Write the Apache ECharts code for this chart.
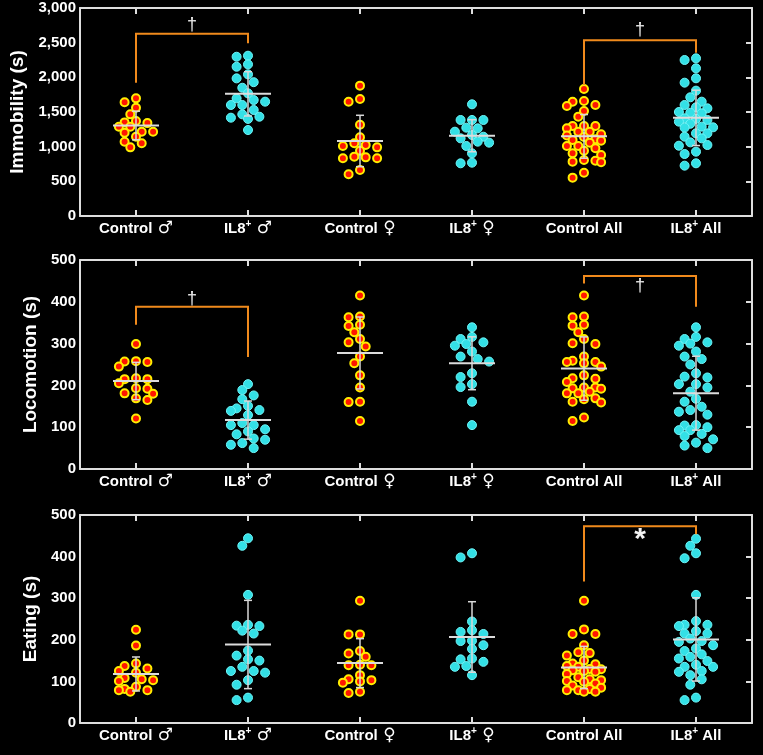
<!DOCTYPE html>
<html><head><meta charset="utf-8">
<script src="https://cdn.jsdelivr.net/npm/echarts@6/dist/echarts.min.js"></script>
<style>html,body{margin:0;padding:0;background:#000}#c{width:763px;height:755px}</style>
</head><body><div id="c"></div>
<script>
// ---- categories & tick settings ----
const categories = ['Control ♂', 'IL8+ ♂', 'Control ♀', 'IL8+ ♀', 'Control All', 'IL8+ All'];
const panelTitles = ['Immobility (s)', 'Locomotion (s)', 'Eating (s)'];
const panelMax = [3000, 500, 500];
const panelInterval = [500, 100, 100];

// ---- Immobility (s) ----
const immCtrlMale   = [1697,1640,1562,1466,1370,1350,1340,1288,1288,1216,1216,1200,1144,1072,1048,990];
const immIl8Male    = [2312,2297,2187,2153,2043,1985,1930,1850,1769,1697,1673,1649,1601,1601,1529,1466,1432,1418,1400,1240];
const immCtrlFemale = [1880,1688,1649,1317,1135,1048,1024,1010,990,942,856,846,832,832,663,601];
const immIl8Female  = [1611,1385,1385,1385,1274,1264,1216,1168,1144,1120,1072,1058,1010,904,769,760];
const immCtrlAll    = [1832,1659,1649,1601,1587,1515,1433,1298,1298,1298,1264,1216,1216,1180,1160,1140,1106,1096,1087,1058,1010,1010,976,942,904,880,808,798,784,774,625,553];
const immIl8All     = [2274,2250,2130,1986,1923,1808,1712,1649,1601,1567,1553,1500,1490,1481,1409,1400,1385,1361,1330,1289,1279,1274,1192,1192,1144,1120,1062,1024,1014,928,894,760,726];

// ---- Locomotion (s) ----
const locCtrlMale   = [299,258,257,256,245,217,215,215,205,193,192,181,180,169,165,121];
const locIl8Male    = [203,189,176,167,151,145,141,139,129,110,105,105,95,90,83,73,70,62,58,50];
const locCtrlFemale = [415,365,363,345,342,327,311,303,293,269,253,224,195,161,160,115];
const locIl8Female  = [339,316,311,303,299,295,281,269,263,257,229,220,203,196,161,105];
const locCtrlAll    = [415,365,363,345,343,327,311,301,299,269,259,256,256,253,245,224,217,216,208,195,195,193,192,185,181,181,169,167,161,159,123,115];
const locIl8All     = [339,316,311,303,300,295,281,269,263,250,229,221,219,203,203,195,185,168,161,149,141,137,130,105,104,100,93,93,84,79,71,63,56,50];

// ---- Eating (s) ----
const eatCtrlMale   = [224,186,143,137,131,125,121,108,105,103,101,87,82,79,79,75];
const eatIl8Male    = [444,426,308,236,234,233,222,215,174,162,153,150,135,125,125,121,103,92,61,55];
const eatCtrlFemale = [294,213,213,173,167,159,140,139,139,115,105,103,100,97,75,72];
const eatIl8Female  = [408,398,244,223,219,214,198,197,187,178,155,153,147,137,135,115];
const eatCtrlAll    = [294,225,214,214,187,170,168,162,150,143,141,137,135,130,129,127,125,123,118,110,105,103,101,99,95,90,85,82,79,79,75,75];
const eatIl8All     = [443,426,408,396,308,245,236,236,233,221,215,215,203,197,195,187,179,173,165,159,155,149,140,135,135,125,123,115,105,92,61,55];

// ---- significance brackets: [fromCat, toCat, topValue, leftEndValue, rightEndValue, markValue] ----
const immBrackets = [[0,1,2630,1923,2490,2761],[4,5,2534,1890,2356,2682]];
const immMarks = ['†','†'];
const locBrackets = [[0,1,388,345,268,407],[4,5,462,444,388,437]];
const locMarks = ['†','†'];
const eatBrackets = [[4,5,473,340,454,440]];
const eatMarks = ['*'];

const panels = [
  {groups:[immCtrlMale,immIl8Male,immCtrlFemale,immIl8Female,immCtrlAll,immIl8All], brackets:immBrackets, marks:immMarks},
  {groups:[locCtrlMale,locIl8Male,locCtrlFemale,locIl8Female,locCtrlAll,locIl8All], brackets:locBrackets, marks:locMarks},
  {groups:[eatCtrlMale,eatIl8Male,eatCtrlFemale,eatIl8Female,eatCtrlAll,eatIl8All], brackets:eatBrackets, marks:eatMarks}
];

const FONT = '"Liberation Sans", Arial, sans-serif';
const AXIS_COLOR = '#dedede';
const gridTops = [8, 260, 515];
const gridH = [208, 209, 208];

// beeswarm-style horizontal spread (pixels), limited to +-3 columns
function swarm(values, pxPerUnit, diam, step, maxCol) {
  const idx = values.map((v, i) => i).sort((a, b) => values[b] - values[a]);
  const placed = [], off = new Array(values.length).fill(0);
  const cands = [0];
  for (let k = 1; k <= maxCol; k++) { cands.push(-k * step, k * step); }
  for (const i of idx) {
    const y = values[i] * pxPerUnit;
    let best = null, bestD = -1;
    for (const dx of cands) {
      const dmin = placed.length ? Math.min(...placed.map(p => Math.hypot(p.x - dx, p.y - y))) : 1e9;
      if (dmin >= diam) { best = dx; break; }
      if (dmin > bestD) { bestD = dmin; best = dx; }
    }
    placed.push({x: best, y}); off[i] = best;
  }
  return off;
}
function mean(a){ return a.reduce((s,v)=>s+v,0)/a.length; }
function sd(a){ const m=mean(a); return Math.sqrt(a.reduce((s,v)=>s+(v-m)**2,0)/(a.length-1)); }

const grid = [], xAxis = [], yAxis = [], series = [];
panels.forEach((p, pi) => {
  grid.push({left: 80, width: 672, top: gridTops[pi], height: gridH[pi]});
  const tickStyle = {show: true, inside: true, alignWithLabel: true, interval: 0, length: 6, lineStyle: {color: AXIS_COLOR, width: 2}};
  xAxis.push({
    type: 'category', gridIndex: pi, data: categories, position: 'bottom',
    axisLine: {show: true, onZero: false, lineStyle: {color: AXIS_COLOR, width: 2}},
    axisTick: tickStyle,
    axisLabel: {
      interval: 0, hideOverlap: false, lineHeight: 20,
      color: '#fff', fontSize: 15, fontWeight: 'bold', fontFamily: FONT, margin: 3,
      formatter: v => v.replace('IL8+', 'IL8{s|+}').replace(' ♂', '{g| ♂}').replace(' ♀', '{g| ♀}'),
      rich: {
        s: {fontSize: 10, fontWeight: 'bold', color: '#fff', fontFamily: FONT, lineHeight: 12, verticalAlign: 'top'},
        g: {fontSize: 17, fontWeight: 'normal', color: '#fff', fontFamily: '"DejaVu Sans", sans-serif', lineHeight: 20}
      }
    },
    splitLine: {show: false}
  });
  xAxis.push({
    type: 'category', gridIndex: pi, data: categories, position: 'top',
    axisLine: {show: true, onZero: false, lineStyle: {color: AXIS_COLOR, width: 2}},
    axisTick: tickStyle, axisLabel: {show: false}, splitLine: {show: false}
  });
  yAxis.push({
    type: 'value', gridIndex: pi, min: 0, max: panelMax[pi], interval: panelInterval[pi], position: 'left',
    name: panelTitles[pi], nameLocation: 'middle', nameGap: 40,
    nameTextStyle: {color: '#fff', fontSize: 19, fontWeight: 'bold', fontFamily: FONT},
    axisLine: {show: true, lineStyle: {color: AXIS_COLOR, width: 2}},
    axisTick: {show: false},
    axisLabel: {color: '#fff', fontSize: 15, fontWeight: 'bold', fontFamily: FONT, margin: 4,
      formatter: v => v.toLocaleString('en-US')},
    splitLine: {show: false}
  });
  yAxis.push({
    type: 'value', gridIndex: pi, min: 0, max: panelMax[pi], interval: panelInterval[pi], position: 'right',
    axisLine: {show: true, lineStyle: {color: AXIS_COLOR, width: 2}},
    axisTick: {show: true, inside: true, length: 6, lineStyle: {color: AXIS_COLOR, width: 2}},
    axisLabel: {show: false}, splitLine: {show: false}
  });
  const pxPerUnit = gridH[pi] / panelMax[pi];
  const ctrlData = [], il8Data = [];
  p.groups.forEach((vals, gi) => {
    const offs = swarm(vals, pxPerUnit, 8, 5.7, 3);
    vals.forEach((v, k) => {
      const item = {value: [gi, v], symbolOffset: [offs[k], 0]};
      (gi % 2 === 0 ? ctrlData : il8Data).push(item);
    });
  });
  series.push({
    type: 'scatter', xAxisIndex: pi * 2, yAxisIndex: pi * 2, data: ctrlData,
    symbol: 'circle', symbolSize: 8, silent: true,
    itemStyle: {color: '#ff1500', borderColor: '#ffee00', borderWidth: 2, opacity: 1}, z: 2
  });
  series.push({
    type: 'scatter', xAxisIndex: pi * 2, yAxisIndex: pi * 2, data: il8Data,
    symbol: 'circle', symbolSize: 9, silent: true,
    itemStyle: {color: '#33e0e6', borderColor: '#6ff4f7', borderWidth: 1, opacity: 1}, z: 2
  });
  const stats = p.groups.map((vals, gi) => [gi, mean(vals), sd(vals)]);
  series.push({
    type: 'custom', xAxisIndex: pi * 2, yAxisIndex: pi * 2, data: stats, z: 5, silent: true,
    encode: {x: 0, y: 1},
    renderItem: (params, api) => {
      const c = api.value(0), m = api.value(1), s = api.value(2);
      const pm = api.coord([c, m]), pt = api.coord([c, m + s]), pb = api.coord([c, m - s]);
      const st = {stroke: '#d9d9d9', lineWidth: 1.5};
      return {type: 'group', children: [
        {type: 'line', shape: {x1: pt[0], y1: pt[1], x2: pb[0], y2: pb[1]}, style: st},
        {type: 'line', shape: {x1: pt[0] - 4, y1: pt[1], x2: pt[0] + 4, y2: pt[1]}, style: st},
        {type: 'line', shape: {x1: pb[0] - 4, y1: pb[1], x2: pb[0] + 4, y2: pb[1]}, style: st},
        {type: 'line', shape: {x1: pm[0] - 23, y1: pm[1], x2: pm[0] + 23, y2: pm[1]}, style: {stroke: '#dcdcdc', lineWidth: 2}}
      ]};
    }
  });
  series.push({
    type: 'custom', xAxisIndex: pi * 2, yAxisIndex: pi * 2, data: p.brackets, z: 6, silent: true,
    encode: {x: [0, 1], y: [2, 3, 4, 5]},
    renderItem: (params, api) => {
      const c1 = api.value(0), c2 = api.value(1), top = api.value(2), l = api.value(3), r = api.value(4), my = api.value(5);
      const a = api.coord([c1, l]), b = api.coord([c1, top]), c = api.coord([c2, top]), d = api.coord([c2, r]);
      const mk = p.marks[params.dataIndex];
      const mpos = api.coord([c1, my]);
      const mx = (a[0] + d[0]) / 2;
      return {type: 'group', children: [
        {type: 'polyline', shape: {points: [a, b, c, d]}, style: {stroke: '#f08a1c', lineWidth: 2, fill: null}},
        {type: 'text', x: mx, y: mpos[1], style: {
          text: mk, fill: '#f2f2f2', align: 'center', verticalAlign: 'middle',
          font: mk === '*' ? 'bold 30px ' + FONT : '18px ' + FONT
        }}
      ]};
    }
  });
});

const chart = echarts.init(document.getElementById('c'), null, {renderer: 'canvas'});
chart.setOption({
  backgroundColor: '#000', animation: false,
  grid, xAxis, yAxis, series
});
</script></body></html>
